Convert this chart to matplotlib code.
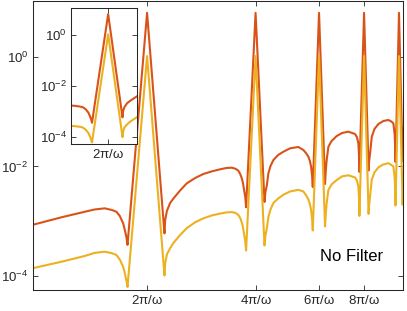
import matplotlib
matplotlib.use('Agg')
import matplotlib.pyplot as plt

plt.rcParams['font.family'] = ['Liberation Sans', 'DejaVu Sans']
plt.rcParams['mathtext.fontset'] = 'custom'
plt.rcParams['mathtext.rm'] = 'Liberation Sans'
plt.rcParams['mathtext.it'] = 'Liberation Sans:italic'
plt.rcParams['mathtext.default'] = 'regular'

# x in units of pi/omega
x = [0.96, 1.157, 1.343, 1.43, 1.526, 1.60, 1.644, 1.68, 1.716, 1.735, 1.752, 1.765,
     2.0,
     2.235, 2.245, 2.27, 2.317, 2.366, 2.47, 2.578, 2.72, 2.866, 3.03, 3.189, 3.32, 3.436,
     3.52, 3.584, 3.625, 3.663, 3.69, 3.717, 3.745, 3.765,
     4.0,
     4.235, 4.26, 4.30, 4.341, 4.40, 4.482, 4.62, 4.777, 4.987, 5.258, 5.429, 5.52, 5.606,
     5.66, 5.703, 5.74, 5.765,
     6.0,
     6.235, 6.26, 6.30, 6.37, 6.50, 6.721, 6.95, 7.237, 7.553, 7.64, 7.715, 7.745, 7.765,
     8.0,
     8.235, 8.26, 8.32, 8.405, 8.55, 8.767, 9.05, 9.345, 9.52, 9.648, 9.73, 9.765, 9.78,
     10.0,
     10.235, 10.3]

orange = [8.55e-4, 1.18e-3, 1.49e-3, 1.64e-3, 1.72e-3, 1.60e-3, 1.49e-3, 1.25e-3, 9.2e-4,
          6.92e-4, 5.16e-4, 3.7e-4,
          6.4,
          6.0e-4, 1.05e-3, 1.54e-3, 2.15e-3, 2.60e-3, 3.65e-3, 4.93e-3, 6.17e-3, 7.30e-3,
          8.17e-3, 8.89e-3, 9.39e-3, 9.51e-3, 9.08e-3, 8.38e-3, 7.3e-3, 6.09e-3, 5.0e-3,
          3.72e-3, 2.77e-3, 1.8e-3,
          6.4,
          2.25e-3, 3.42e-3, 4.59e-3, 7.51e-3, 1.02e-2, 1.31e-2, 1.62e-2, 1.86e-2, 2.15e-2,
          2.27e-2, 2.00e-2, 1.76e-2, 1.51e-2, 1.26e-2, 9.91e-3, 6.7e-3, 4.22e-3,
          6.4,
          4.79e-3, 7.94e-3, 1.31e-2, 2.30e-2, 2.92e-2, 3.61e-2, 4.09e-2, 4.32e-2, 3.92e-2,
          3.46e-2, 2.65e-2, 1.62e-2, 7.94e-3,
          6.4,
          8.45e-3, 1.21e-2, 1.84e-2, 3.50e-2, 4.84e-2, 5.97e-2, 6.78e-2, 7.07e-2, 6.64e-2,
          6.15e-2, 3.76e-2, 2.0e-2, 1.21e-2,
          6.4,
          1.25e-2, 5.0e-2]

yellow = [1.38e-4, 1.82e-4, 2.32e-4, 2.64e-4, 2.78e-4, 2.6e-4, 2.42e-4, 2.0e-4, 1.48e-4,
          1.12e-4, 8.3e-5, 6.3e-5,
          1.04,
          1.02e-4, 1.70e-4, 2.48e-4, 3.21e-4, 4.01e-4, 5.61e-4, 7.5e-4, 9.6e-4, 1.13e-3,
          1.28e-3, 1.38e-3, 1.45e-3, 1.47e-3, 1.42e-3, 1.30e-3, 1.15e-3, 9.5e-4, 7.8e-4,
          5.8e-4, 4.3e-4, 2.92e-4,
          1.04,
          3.61e-4, 5.5e-4, 7.53e-4, 1.20e-3, 1.64e-3, 2.15e-3, 2.6e-3, 3.05e-3, 3.5e-3,
          3.75e-3, 3.5e-3, 3.0e-3, 2.5e-3, 2.03e-3, 1.6e-3, 1.08e-3, 6.78e-4,
          1.04,
          8.02e-4, 1.28e-3, 2.15e-3, 3.72e-3, 4.7e-3, 5.67e-3, 6.6e-3, 6.9e-3, 6.3e-3,
          5.6e-3, 4.28e-3, 2.6e-3, 1.25e-3,
          1.04,
          1.36e-3, 1.95e-3, 3.02e-3, 5.79e-3, 7.8e-3, 9.67e-3, 1.09e-2, 1.15e-2, 1.07e-2,
          1.0e-2, 6.17e-3, 3.2e-3, 1.94e-3,
          1.04,
          2.0e-3, 8.0e-3]

xticks_main = [2, 4, 6, 8]
xticklabels_main = [r'$2\pi/\omega$', r'$4\pi/\omega$', r'$6\pi/\omega$', r'$8\pi/\omega$']
yticks = [1e-4, 1e-2, 1e0]
yticklabels = [r'$10^{-4}$', r'$10^{-2}$', r'$10^{0}$']

C_ORANGE = '#D95319'
C_YELLOW = '#EDB120'
AX_COL = '#262626'

fig = plt.figure(figsize=(4.07, 3.11), dpi=100)


def style(ax):
    for s in ax.spines.values():
        s.set_color(AX_COL)
        s.set_linewidth(0.75)
    ax.minorticks_off()
    ax.tick_params(which='both', direction='in', top=True, right=True,
                   length=3.5, width=0.6, color=AX_COL, labelsize=9.5,
                   labelcolor=AX_COL, pad=3)


ax = fig.add_axes([0.0799, 0.0691, 0.9103, 0.9277])
ax.plot(x, orange, color=C_ORANGE, lw=1.5)
ax.plot(x, yellow, color=C_YELLOW, lw=1.5)
ax.set_xscale('log')
ax.set_yscale('log')
ax.set_xlim(0.962, 10.26)
ax.set_ylim(10 ** -4.247, 10 ** 1.023)
ax.set_xticks(xticks_main)
ax.set_xticklabels(xticklabels_main)
ax.set_yticks(yticks)
ax.set_yticklabels(yticklabels)
style(ax)
ax.text(0.776, 0.113, 'No Filter', transform=ax.transAxes, fontsize=12,
        ha='left', va='center', color='black')

axi = fig.add_axes([0.1744, 0.537, 0.1622, 0.437])
axi.plot(x, orange, color=C_ORANGE, lw=1.5)
axi.plot(x, yellow, color=C_YELLOW, lw=1.5)
axi.set_xscale('log')
axi.set_yscale('log')
axi.set_xlim(1.5, 2.5)
axi.set_ylim(10 ** -4.26, 10 ** 1.04)
axi.set_xticks([2])
axi.set_xticklabels([r'$2\pi/\omega$'])
axi.set_yticks(yticks)
axi.set_yticklabels(yticklabels)
style(axi)

fig.savefig('out.png', dpi=100)
